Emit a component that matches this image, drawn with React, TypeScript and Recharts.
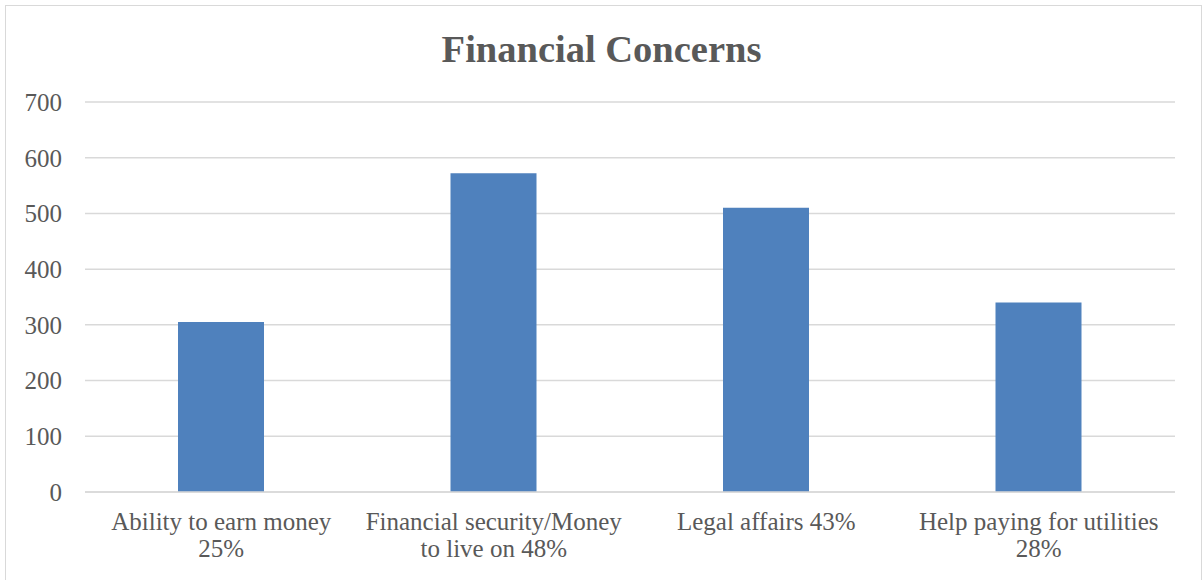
import React from "react";
import { BarChart, Bar, XAxis, YAxis, CartesianGrid } from "recharts";

const categories = [
  "Ability to earn money\n25%",
  "Financial security/Money\nto live on 48%",
  "Legal affairs 43%",
  "Help paying for utilities\n28%",
];
const counts = [305, 572, 510, 340];
const yTicks = [0, 100, 200, 300, 400, 500, 600, 700];
const title = "Financial Concerns";

const data = categories.map((c, i) => ({ name: c, value: counts[i] }));

const FONT = "'Liberation Serif', 'Times New Roman', serif";
const TEXT = "#595959";

const XTick = (props: any) => {
  const { x, y, payload } = props;
  const lines = String(payload.value).split("\n");
  return (
    <g>
      {lines.map((l: string, i: number) => (
        <text
          key={i}
          x={x}
          y={y + 30 + i * 27}
          textAnchor="middle"
          fill={TEXT}
          fontSize={25}
          fontFamily={FONT}
        >
          {l}
        </text>
      ))}
    </g>
  );
};

export default function App() {
  return (
    <div
      style={{
        position: "fixed",
        left: 0,
        top: 0,
        width: 1203,
        height: 580,
        overflow: "hidden",
        background: "#fff",
      }}
    >
      <div
        style={{
          position: "absolute",
          left: 5,
          top: 5,
          width: 1195,
          height: 620,
          border: "1px solid #d9d9d9",
        }}
      />
      <div style={{ position: "absolute", left: 0, top: 0 }}>
        <BarChart
          width={1203}
          height={580}
          data={data}
          margin={{ top: 102, right: 28, bottom: 58, left: 0 }}
        >
          <text
            x={601.5}
            y={62}
            textAnchor="middle"
            fill={TEXT}
            fontSize={38.5}
            fontWeight="bold"
            fontFamily={FONT}
          >
            {title}
          </text>
          <CartesianGrid vertical={false} stroke="#d9d9d9" strokeWidth={1.5} />
          <XAxis
            dataKey="name"
            height={30}
            axisLine={{ stroke: "#d9d9d9", strokeWidth: 1.5 }}
            tickLine={false}
            tick={<XTick />}
            interval={0}
          />
          <YAxis
            width={85}
            domain={[0, 700]}
            ticks={yTicks}
            axisLine={false}
            tickLine={false}
            tickSize={0}
            tickMargin={23}
            tick={{ fill: TEXT, fontSize: 25, fontFamily: FONT }}
          />
          <Bar
            dataKey="value"
            fill="#4f81bd"
            barSize={86}
            isAnimationActive={false}
          />
        </BarChart>
      </div>
    </div>
  );
}
